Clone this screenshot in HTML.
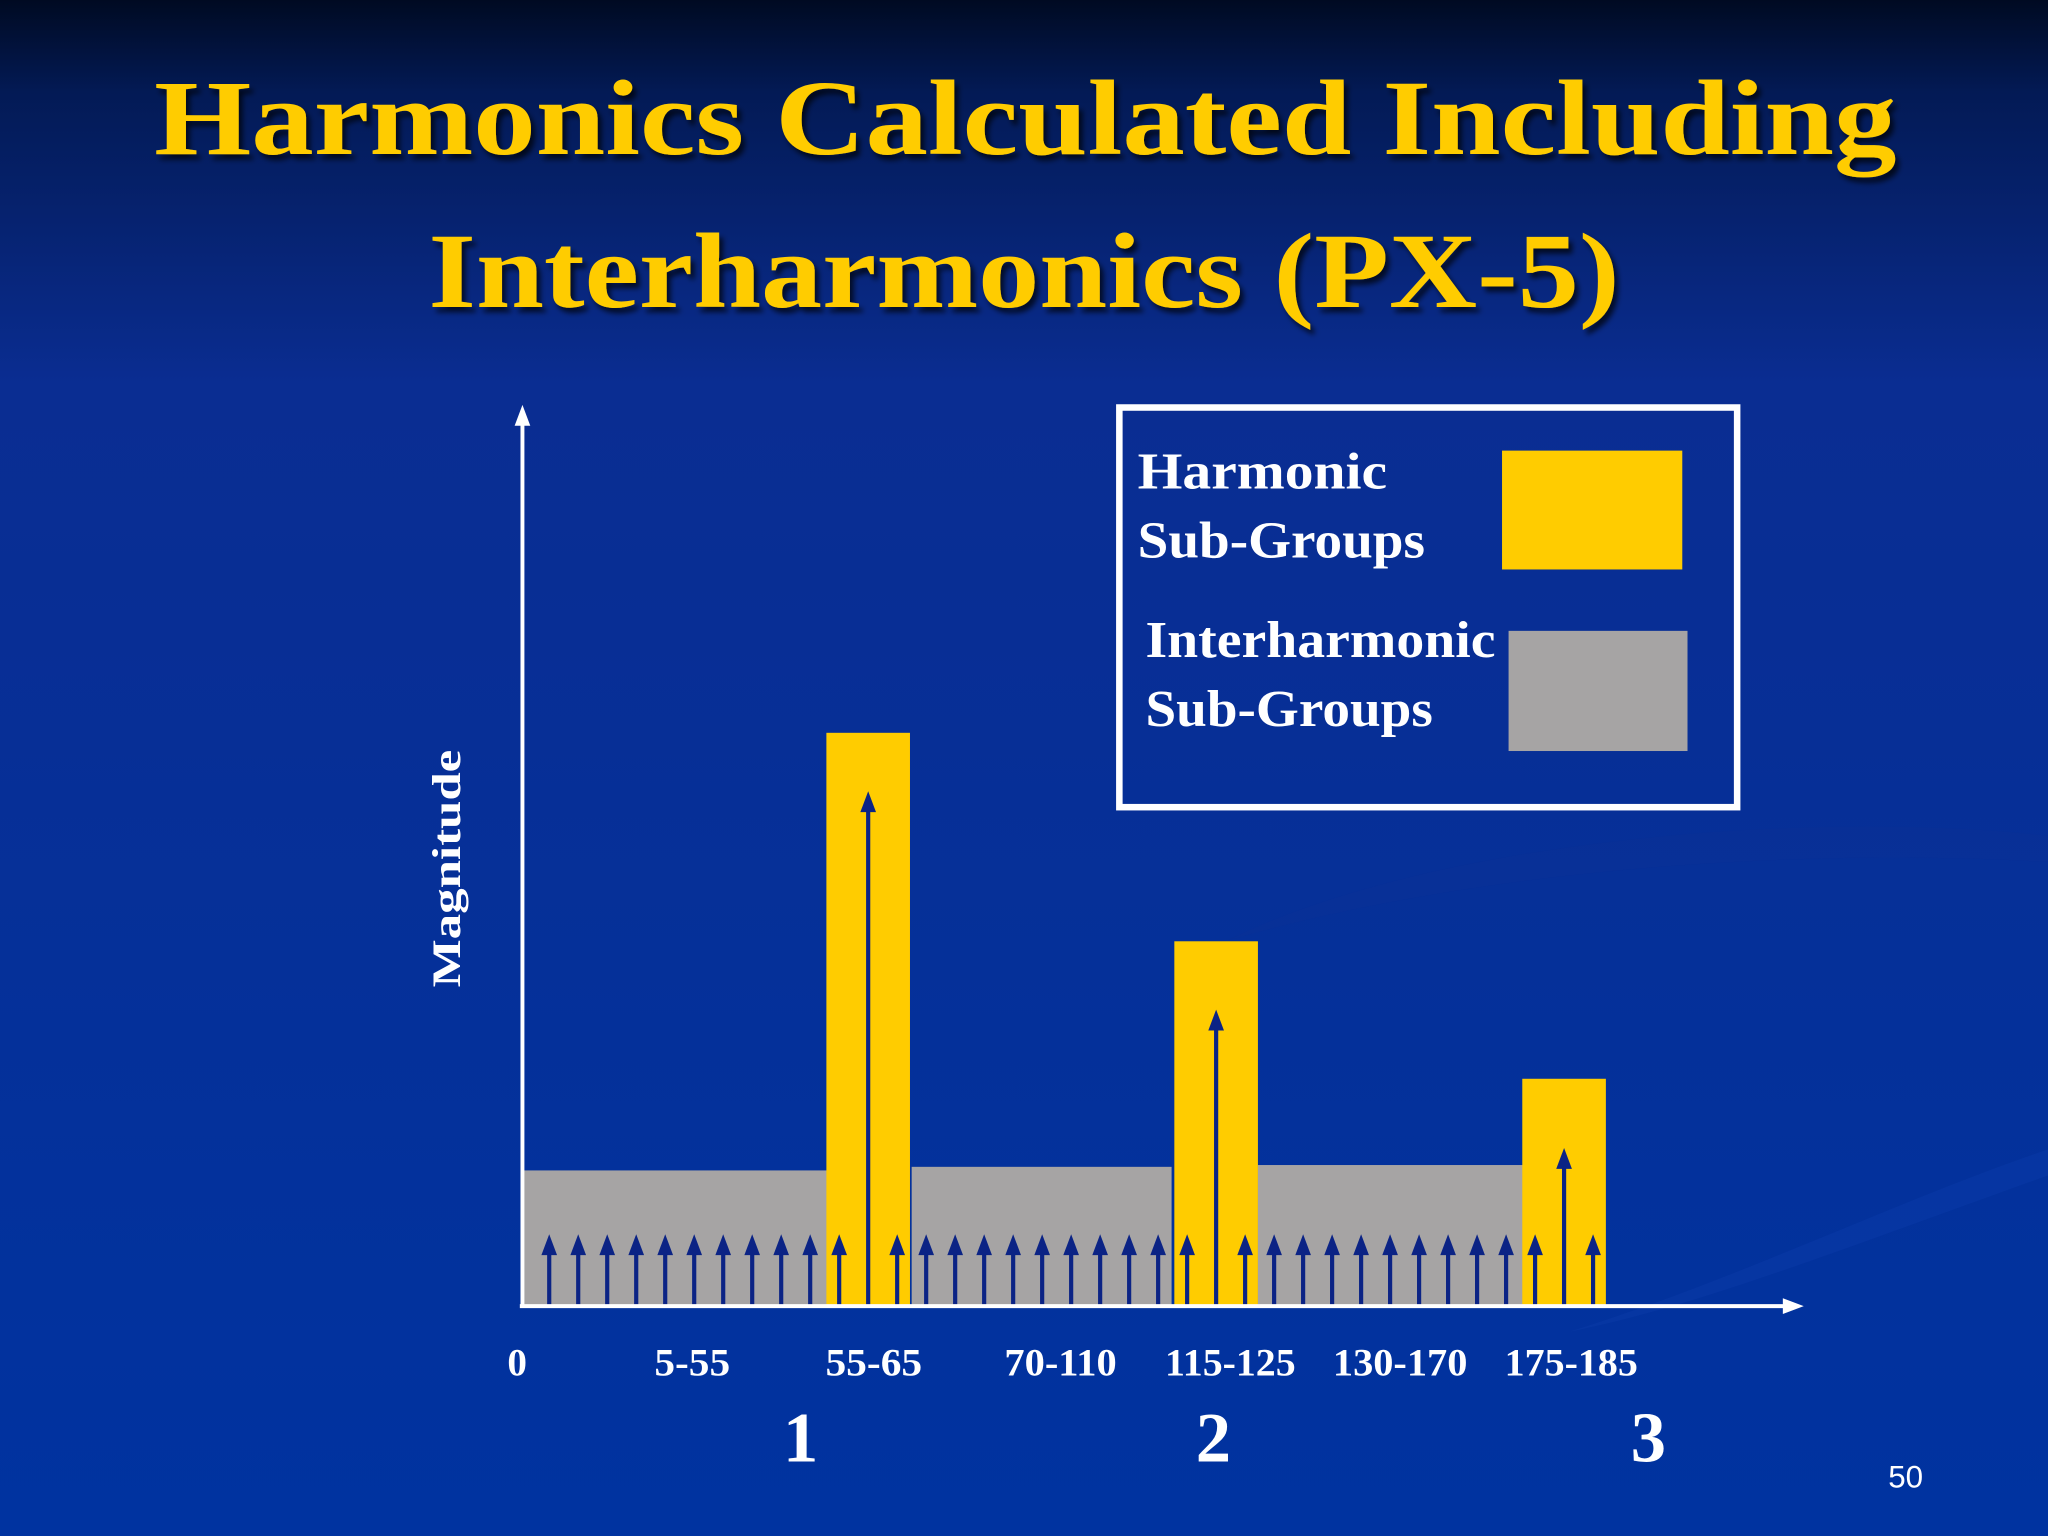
<!DOCTYPE html>
<html><head><meta charset="utf-8"><style>
html,body{margin:0;padding:0;background:#0033a0}
svg{display:block}
</style></head><body>
<svg width="2048" height="1536" viewBox="0 0 1568 1176" xmlns="http://www.w3.org/2000/svg" font-family="'Liberation Serif', serif">
<defs>
<linearGradient id="bg" x1="0" y1="0" x2="0" y2="1">
<stop offset="0" stop-color="#000a22"/>
<stop offset="0.06" stop-color="#031a55"/>
<stop offset="0.25" stop-color="#0a2d92"/>
<stop offset="1" stop-color="#0033a0"/>
</linearGradient>
<filter id="sh"><feDropShadow dx="3" dy="4" stdDeviation="2" flood-color="#000" flood-opacity="0.7"/></filter>
</defs>
<rect width="1568" height="1176" fill="url(#bg)"/>
<path d="M1568 900 C1400 960 1300 1000 1200 1020 C1330 980 1450 920 1568 880Z" fill="#0a3aa8" opacity="0.5"/>
<path d="M940 720 C1100 640 1400 620 1568 640 L1568 660 C1400 650 1150 660 940 720Z" fill="#0a2f95" opacity="0.5"/>
<g fill="#ffcc00" font-weight="bold" font-size="82" text-anchor="middle" filter="url(#sh)">
<text x="785" y="118" textLength="1334" lengthAdjust="spacingAndGlyphs">Harmonics Calculated Including</text>
<text x="784" y="235" textLength="912" lengthAdjust="spacingAndGlyphs">Interharmonics (PX-5)</text>
</g>
<g id="plot"></g>
<g stroke="#fff" stroke-width="3">
<line x1="400" y1="1000" x2="400" y2="320"/>
<polygon points="400,310 394,326 406,326" fill="#fff" stroke="none"/>
</g>
<g stroke="#fff" stroke-width="3">
<line x1="398" y1="1000" x2="1370" y2="1000"/>
<polygon points="1381,1000 1365,994 1365,1006" fill="#fff" stroke="none"/>
</g>
<text transform="translate(352,665) rotate(-90)" text-anchor="middle" fill="#fff" font-weight="bold" font-size="31" textLength="182" lengthAdjust="spacingAndGlyphs">Magnitude</text>
<g id="xlabels" fill="#fff" font-weight="bold" font-size="30" text-anchor="middle"></g>
<g id="hlabels" fill="#fff" font-weight="bold" font-size="54" text-anchor="middle"></g>
<g>
<rect x="857" y="312" width="473" height="306" fill="none" stroke="#fff" stroke-width="5"/>
<g fill="#fff" font-size="40" font-weight="bold">
<text x="871" y="374" textLength="191" lengthAdjust="spacingAndGlyphs">Harmonic</text>
<text x="871" y="427" textLength="220" lengthAdjust="spacingAndGlyphs">Sub-Groups</text>
<text x="877" y="503" textLength="268" lengthAdjust="spacingAndGlyphs">Interharmonic</text>
<text x="877" y="556" textLength="220" lengthAdjust="spacingAndGlyphs">Sub-Groups</text>
</g>
<rect x="1150" y="345" width="138" height="91" fill="#ffcc00"/>
<rect x="1155" y="483" width="137" height="92" fill="#a6a4a4"/>
</g>
<text x="1459" y="1139" fill="#fff" font-family="'Liberation Sans', sans-serif" font-size="24" text-anchor="middle">50</text>
</svg>
<script>
var NS='http://www.w3.org/2000/svg';
// data (magnitude units, 0-100 scale)
var interGroupMag=[15.1,15.5,15.7];
var harmonicMag=[63.8,40.6,25.3];
var harmonicArrowMag=[57.3,33.0,17.6];
var binMag=[8,8,8,8,8,8,8,8,8,8,8,0,8,8,8,8,8,8,8,8,8,8,8,0,8,8,8,8,8,8,8,8,8,8,8,0,8];
var tickLabels=['0','5-55','55-65','70-110','115-125','130-170','175-185'];
var harmonicLabels=['1','2','3'];
var y0=1000, pxPerUnit=6.88;
function yS(v){return y0-v*pxPerUnit;}
function binX(i){return 420.5+22.2*i;}
var harmonicBin=[11,23,35];
var plot=document.getElementById('plot');
function mk(tag,attrs,parent){var e=document.createElementNS(NS,tag);for(var k in attrs){e.setAttribute(k,String(attrs[k]));}(parent||plot).appendChild(e);return e;}
var gStart=[401,698,963], gEnd=[635,897,1166];
for(var i=0;i<interGroupMag.length;i++){
 var r=mk('rect',{x:gStart[i],y:yS(interGroupMag[i]),width:gEnd[i]-gStart[i],height:y0-yS(interGroupMag[i]),fill:'#a6a4a4'});
 
 
}
for(var i=0;i<harmonicMag.length;i++){
 var cx=binX(harmonicBin[i]);
 var r=mk('rect',{x:cx-32,y:yS(harmonicMag[i]),width:64,height:y0-yS(harmonicMag[i]),fill:'#ffcc00'});
 
 
}
function arrow(x,v,name){
 var g=mk('g',{});
 
 
 var top=yS(v);
 mk('line',{x1:x,y1:y0-1,x2:x,y2:top+12,stroke:'#0b2385','stroke-width':3.2},g);
 mk('polygon',{points:x+','+top+' '+(x-6)+','+(top+16)+' '+(x+6)+','+(top+16),fill:'#0b2385'},g);
}
for(var i=0;i<binMag.length;i++){ if(binMag[i]>0) arrow(binX(i),binMag[i],'bin-arrow-'+i); }
for(var i=0;i<harmonicArrowMag.length;i++){ arrow(binX(harmonicBin[i]),harmonicArrowMag[i],'harmonic-arrow-'+(i+1)); }
var tx=[396,530,669,812,942,1072,1203];
var tw=[0,58,74,86,100,103,102];
var xl=document.getElementById('xlabels');
for(var i=0;i<tickLabels.length;i++){
 var t=mk('text',{x:tx[i],y:1053},xl);
 if(tw[i]>0){t.setAttribute('textLength',tw[i]);t.setAttribute('lengthAdjust','spacingAndGlyphs');}
 t.textContent=tickLabels[i];
 
 
}
var hx=[613,929,1262];
var hl=document.getElementById('hlabels');
for(var i=0;i<harmonicLabels.length;i++){
 var t=mk('text',{x:hx[i],y:1119},hl);
 t.textContent=harmonicLabels[i];
 
 
}
</script>
</body></html>
